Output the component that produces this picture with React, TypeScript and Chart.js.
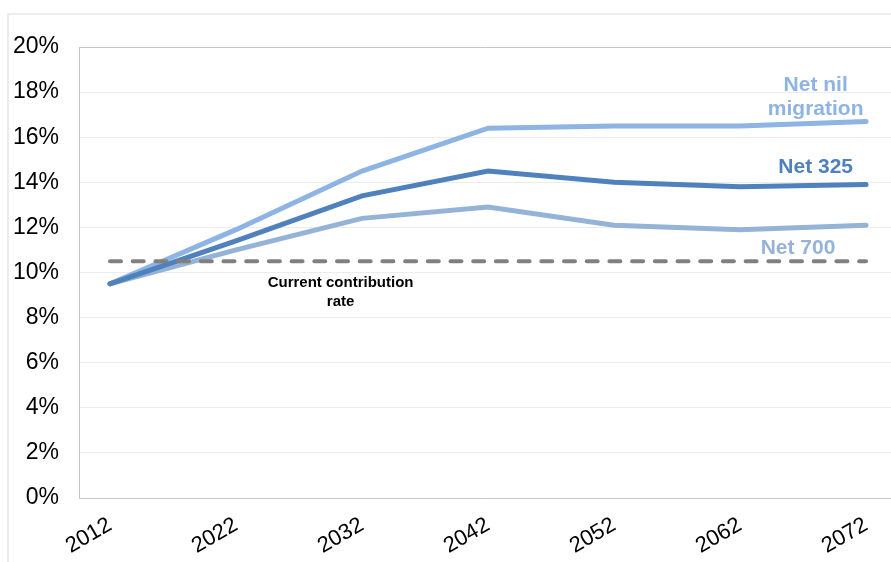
import React, { useEffect, useRef } from "react";
import { Chart, registerables } from "chart.js";

Chart.register(...registerables);

// Projected contribution rate by migration scenario (% of earnings)
const years = [2012, 2022, 2032, 2042, 2052, 2062, 2072];
const netNil = [9.5, 11.9, 14.5, 16.4, 16.5, 16.5, 16.7];
const net325 = [9.5, 11.4, 13.4, 14.5, 14.0, 13.8, 13.9];
const net700 = [9.5, 11.0, 12.4, 12.9, 12.1, 11.9, 12.1];
const currentRate = 10.5;
const yTicks = [0, 2, 4, 6, 8, 10, 12, 14, 16, 18, 20];

const FONT = "'Liberation Sans', Arial, sans-serif";

const C_NIL = "#8db4e2";
const C_325 = "#4f81bd";
const C_700 = "#95b3d7";

type Note = { lines: string[]; x: number; y: number; color: string; size: number; gap: number };

// Series and reference-line captions, anchored in data coordinates
const notes: Note[] = [
  { lines: ["Net nil", "migration"], x: 2068.0, y: 18.31, color: C_NIL, size: 21, gap: 24 },
  { lines: ["Net 325"], x: 2068.0, y: 14.68, color: C_325, size: 21, gap: 24 },
  { lines: ["Net 700"], x: 2066.6, y: 11.09, color: C_700, size: 21, gap: 24 },
  { lines: ["Current contribution", "rate"], x: 2030.3, y: 9.53, color: "#000000", size: 15, gap: 19 },
];

const pts = (vals: number[]) => vals.map((v, i) => ({ x: years[i], y: v }));

const notesPlugin = {
  id: "notes",
  afterDatasetsDraw(chart: any) {
    const { ctx, scales } = chart;
    ctx.save();
    ctx.textAlign = "center";
    ctx.textBaseline = "middle";
    for (const n of notes) {
      const px = scales.x.getPixelForValue(n.x);
      const py = scales.y.getPixelForValue(n.y);
      ctx.fillStyle = n.color;
      ctx.font = `bold ${n.size}px ${FONT}`;
      n.lines.forEach((t, i) => ctx.fillText(t, px, py + i * n.gap));
    }
    ctx.restore();
  },
};

export default function App() {
  const ref = useRef<HTMLCanvasElement>(null);

  useEffect(() => {
    if (!ref.current) return;
    const chart = new Chart(ref.current, {
      type: "line",
      data: {
        datasets: [
          {
            label: "Current contribution rate",
            data: [
              { x: years[0], y: currentRate },
              { x: years[years.length - 1], y: currentRate },
            ],
            borderColor: "#808080",
            borderWidth: 4,
            borderDash: [11, 11.7],
            borderCapStyle: "round",
            pointRadius: 0,
            order: 0,
          },
          {
            label: "Net 325",
            data: pts(net325),
            borderColor: C_325,
            borderWidth: 5,
            pointRadius: 0,
            borderCapStyle: "round",
            order: 1,
          },
          {
            label: "Net nil migration",
            data: pts(netNil),
            borderColor: C_NIL,
            borderWidth: 5,
            pointRadius: 0,
            borderCapStyle: "round",
            order: 2,
          },
          {
            label: "Net 700",
            data: pts(net700),
            borderColor: C_700,
            borderWidth: 5,
            pointRadius: 0,
            borderCapStyle: "round",
            order: 3,
          },
        ],
      },
      options: {
        animation: false,
        responsive: false,
        devicePixelRatio: 1,
        layout: { padding: { top: 47, left: 0, right: 0, bottom: 0 } },
        plugins: { legend: { display: false }, tooltip: { enabled: false } },
        scales: {
          x: {
            type: "linear",
            min: 2009.54,
            max: 2073.98,
            afterBuildTicks: (s: any) => {
              s.ticks = years.map((v) => ({ value: v }));
            },
            afterFit: (s: any) => {
              s.height = 64;
              s.paddingLeft = 0;
              s.paddingRight = 0;
            },
            grid: { display: false, drawTicks: false },
            border: { display: false },
            ticks: {
              minRotation: 30,
              maxRotation: 30,
              padding: 14,
              color: "#000000",
              font: { family: FONT, size: 22 },
              callback: (v: any) => String(v),
            },
          },
          y: {
            min: 0,
            max: 20,
            afterBuildTicks: (s: any) => {
              s.ticks = yTicks.map((v) => ({ value: v }));
            },
            afterFit: (s: any) => {
              s.width = 79;
            },
            grid: {
              drawTicks: false,
              lineWidth: 1,
              color: (c: any) =>
                c.tick && (c.tick.value === 0 || c.tick.value === 20) ? "#c6c6c6" : "#ececec",
            },
            border: { display: true, color: "#c6c6c6", width: 1 },
            ticks: {
              padding: 20,
              color: "#000000",
              font: { family: FONT, size: 23 },
              callback: (v: any) => `${v}%`,
            },
          },
        },
      },
      plugins: [notesPlugin],
    });
    return () => chart.destroy();
  }, []);

  return (
    <div
      style={{
        position: "fixed",
        left: 0,
        top: 0,
        width: 891,
        height: 562,
        overflow: "hidden",
        background: "#ffffff",
      }}
    >
      <div
        style={{
          position: "absolute",
          left: 7,
          top: 13,
          width: 1000,
          height: 1000,
          border: "2px solid #ececec",
          boxSizing: "border-box",
        }}
      />
      <canvas
        ref={ref}
        width={891}
        height={562}
        style={{ position: "absolute", left: 0, top: 0, width: 891, height: 562 }}
      />
    </div>
  );
}
